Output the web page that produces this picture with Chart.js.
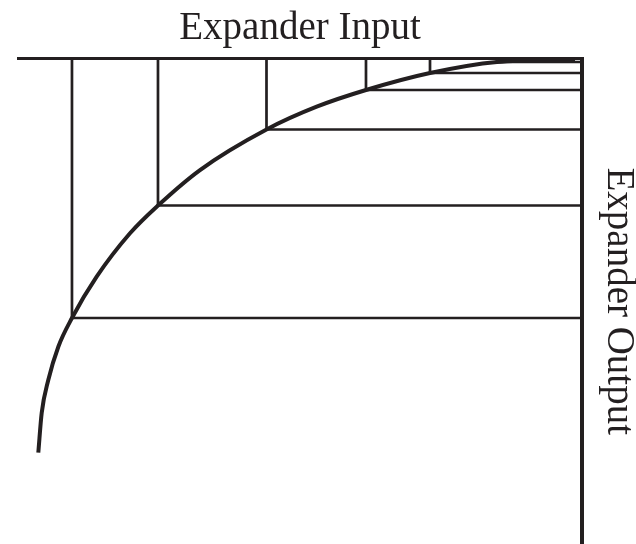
<!DOCTYPE html>
<html>
<head>
<meta charset="utf-8">
<script src="https://cdn.jsdelivr.net/npm/chart.js@4/dist/chart.umd.min.js"></script>
<style>
  html, body { margin: 0; padding: 0; background: #ffffff; }
  #c { display: block; }
</style>
</head>
<body>
<canvas id="c" width="636" height="544"></canvas>
<script>
// Axis titles
const xTitle = 'Expander Input';
const yTitle = 'Expander Output';

// Transfer curve (input 0..100 along top, output 0..100 downward)
const curveX = [3.60, 4.20, 5.37, 7.15, 9.57, 13.95, 19.86, 24.82, 32.27, 44.06, 52.96, 61.70, 73.05, 84.93, 98.76];
const curveY = [81.19, 73.02, 66.22, 59.36, 53.45, 44.94, 36.00, 30.28, 22.97, 14.62, 9.93, 6.49, 2.99, 0.72, 0.21];

// Projection corners (vertical from input axis, horizontal to output axis)
const stepX = [9.57, 24.82, 44.06, 61.70, 73.05, 84.93];
const stepY = [53.45, 30.28, 14.62, 6.49, 2.99, 0.72];

const INK = '#231f20';

const datasets = [];
stepX.forEach((sx, i) => {
  datasets.push({
    data: [{x: sx, y: 0}, {x: sx, y: stepY[i]}, {x: 100, y: stepY[i]}],
    showLine: true,
    borderColor: INK,
    borderWidth: 2.7,
    pointRadius: 0,
    tension: 0,
    borderJoinStyle: 'miter',
    clip: false
  });
});
datasets.push({
  data: curveX.map((x, i) => ({x: x, y: curveY[i]})),
  showLine: true,
  borderColor: INK,
  borderWidth: 4,
  pointRadius: 0,
  cubicInterpolationMode: 'monotone',
  clip: false
});

new Chart(document.getElementById('c'), {
  type: 'scatter',
  data: { datasets: datasets },
  options: {
    responsive: false,
    animation: false,
    layout: { padding: { left: 18, right: 0, top: 0, bottom: 0 } },
    plugins: { legend: { display: false }, tooltip: { enabled: false } },
    scales: {
      x: {
        type: 'linear',
        position: 'top',
        min: 0, max: 100,
        ticks: { display: false },
        grid: { display: false, drawTicks: false },
        border: { display: true, width: 3, color: INK },
        title: {
          display: true, text: xTitle, color: INK,
          font: { family: 'Liberation Serif', size: 39, lineHeight: 1.2 },
          padding: { top: 5.1, bottom: 6.6 }
        }
      },
      y: {
        type: 'linear',
        position: 'right',
        reverse: true,
        min: 0, max: 100,
        ticks: { display: false },
        grid: { display: false, drawTicks: false },
        border: { display: true, width: 4, color: INK },
        title: {
          display: true, text: yTitle, color: INK,
          font: { family: 'Liberation Serif', size: 39, lineHeight: 1 },
          padding: { top: -1.7, bottom: 16.7 }
        }
      }
    }
  }
});
</script>
</body>
</html>
